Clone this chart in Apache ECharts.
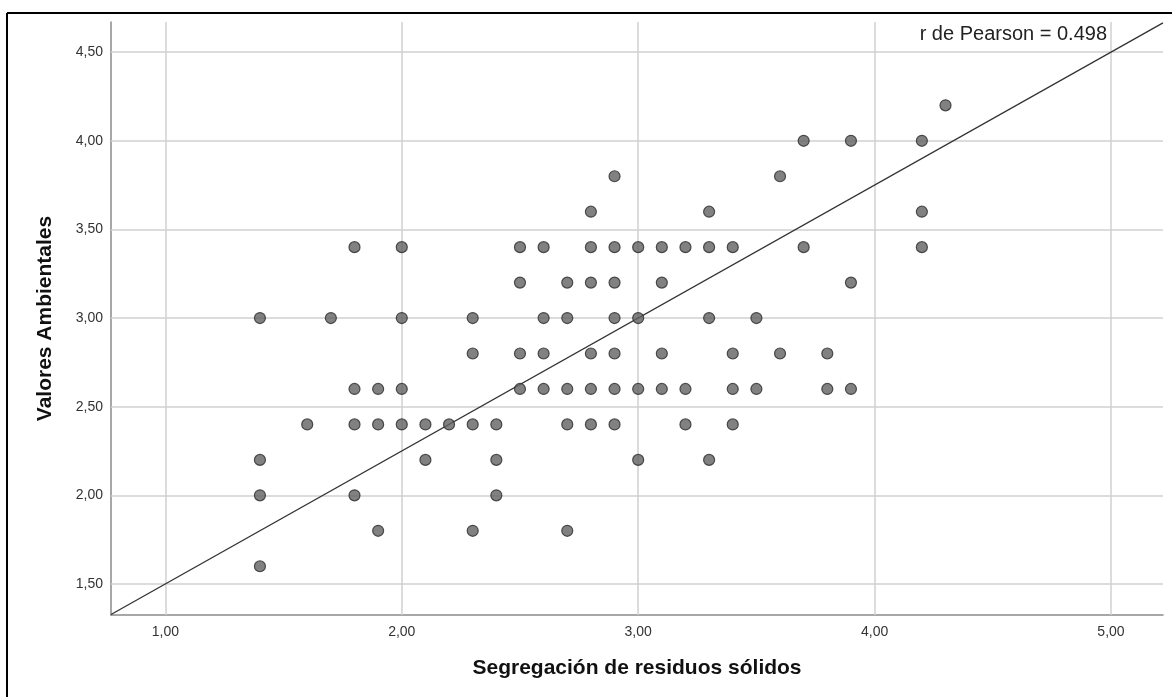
<!DOCTYPE html>
<html>
<head>
<meta charset="utf-8">
<script src="https://cdn.jsdelivr.net/npm/echarts@6/dist/echarts.min.js"></script>
<style>
html,body{margin:0;padding:0;background:#fff;}
#chart{width:1172px;height:697px;}
</style>
</head>
<body>
<div id="chart"></div>
<script>
// ---- data ----
var xTitle = 'Segregación de residuos sólidos';
var yTitle = 'Valores Ambientales';
var pearsonText = 'r de Pearson = 0.498';
var xTicks = [1, 2, 3, 4, 5];
var yTicks = [1.5, 2.0, 2.5, 3.0, 3.5, 4.0, 4.5];
var xRange = [0.77, 5.22];
var yRange = [1.325, 4.67];
// y level of each row of points, and the x values in that row
var yLevels = [4.2, 4.0, 3.8, 3.6, 3.4, 3.2, 3.0, 2.8, 2.6, 2.4, 2.2, 2.0, 1.8, 1.6];
var xAt42 = [4.3];
var xAt40 = [3.7, 3.9, 4.2];
var xAt38 = [2.9, 3.6];
var xAt36 = [2.8, 3.3, 4.2];
var xAt34 = [1.8, 2.0, 2.5, 2.6, 2.8, 2.9, 3.0, 3.1, 3.2, 3.3, 3.4, 3.7, 4.2];
var xAt32 = [2.5, 2.7, 2.8, 2.9, 3.1, 3.9];
var xAt30 = [1.4, 1.7, 2.0, 2.3, 2.6, 2.7, 2.9, 3.0, 3.3, 3.5];
var xAt28 = [2.3, 2.5, 2.6, 2.8, 2.9, 3.1, 3.4, 3.6, 3.8];
var xAt26 = [1.8, 1.9, 2.0, 2.5, 2.6, 2.7, 2.8, 2.9, 3.0, 3.1, 3.2, 3.4, 3.5, 3.8, 3.9];
var xAt24 = [1.6, 1.8, 1.9, 2.0, 2.1, 2.2, 2.3, 2.4, 2.7, 2.8, 2.9, 3.2, 3.4];
var xAt22 = [1.4, 2.1, 2.4, 3.0, 3.3];
var xAt20 = [1.4, 1.8, 2.4];
var xAt18 = [1.9, 2.3, 2.7];
var xAt16 = [1.4];
// reference line shown on the chart
var fitIntercept = 0.75;
var fitSlope = 0.75;

var rows = [xAt42, xAt40, xAt38, xAt36, xAt34, xAt32, xAt30, xAt28, xAt26, xAt24, xAt22, xAt20, xAt18, xAt16];
var points = [];
rows.forEach(function (xs, i) {
  xs.forEach(function (x) { points.push([x, yLevels[i]]); });
});
var fitData = [
  [xRange[0], fitIntercept + fitSlope * xRange[0]],
  [xRange[1], fitIntercept + fitSlope * xRange[1]]
];
function fmt(v) { return v.toFixed(2).replace('.', ','); }

var gridLineStyle = { color: '#d0d0d0', width: 1.5, type: 'solid' };
var gridMarks = [];
xTicks.forEach(function (v) { gridMarks.push({ xAxis: v }); });
yTicks.forEach(function (v) { gridMarks.push({ yAxis: v }); });

var FONT = 'Liberation Sans, Arial, sans-serif';
var chart = echarts.init(document.getElementById('chart'), null, { renderer: 'canvas' });
chart.setOption({
  animation: false,
  backgroundColor: '#ffffff',
  textStyle: { fontFamily: FONT },
  grid: { left: 111, right: 9, top: 22, bottom: 82, containLabel: false },
  xAxis: {
    type: 'value',
    min: xRange[0], max: xRange[1],
    name: xTitle,
    nameLocation: 'middle',
    nameGap: 43,
    nameTextStyle: { fontSize: 21, fontWeight: 'bold', color: '#111' },
    axisLine: { show: true, onZero: false, lineStyle: { color: '#8a8a8a', width: 1.5 } },
    axisTick: { show: false, customValues: xTicks },
    axisLabel: { customValues: xTicks, formatter: fmt, fontSize: 14, color: '#333', margin: 10, showMinLabel: true, showMaxLabel: true },
    splitLine: { show: false }
  },
  yAxis: {
    type: 'value',
    min: yRange[0], max: yRange[1],
    name: yTitle,
    nameLocation: 'middle',
    nameGap: 55,
    nameTextStyle: { fontSize: 21, fontWeight: 'bold', color: '#111' },
    axisLine: { show: true, onZero: false, lineStyle: { color: '#8a8a8a', width: 1.5 } },
    axisTick: { show: false, customValues: yTicks },
    axisLabel: { customValues: yTicks, formatter: fmt, fontSize: 14, color: '#333', margin: 8 },
    splitLine: { show: false }
  },
  series: [
    {
      type: 'line',
      data: [],
      silent: true,
      markLine: {
        silent: true,
        symbol: ['none', 'none'],
        label: { show: false },
        lineStyle: gridLineStyle,
        data: gridMarks,
        z: 1
      },
      z: 1
    },
    {
      type: 'line',
      data: fitData,
      showSymbol: false,
      symbol: 'none',
      lineStyle: { color: '#333', width: 1.3 },
      silent: true,
      z: 2
    },
    {
      type: 'scatter',
      data: points,
      symbol: 'circle',
      symbolSize: 11,
      itemStyle: { color: '#626262', borderColor: '#2a2a2a', borderWidth: 1.2 },
      z: 3
    }
  ],
  graphic: [
    { type: 'line', shape: { x1: 7, y1: 13, x2: 1172, y2: 13 }, style: { stroke: '#000', lineWidth: 2 }, z: 10 },
    { type: 'line', shape: { x1: 7, y1: 13, x2: 7, y2: 697 }, style: { stroke: '#000', lineWidth: 2 }, z: 10 },
    { type: 'text', right: 65, top: 24, style: { text: pearsonText, fontSize: 20, fill: '#222', fontFamily: FONT }, z: 10 }
  ]
});
</script>
</body>
</html>
